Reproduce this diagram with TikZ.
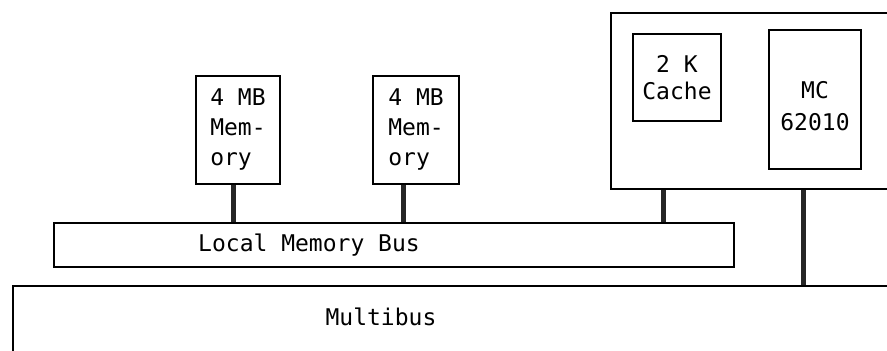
\documentclass[tikz,border=0pt]{standalone}
\usepackage{fontspec}
\newfontfamily\typefont{DejaVu Sans Mono}
\usetikzlibrary{positioning}

\begin{document}
\begin{tikzpicture}[x=1pt,y=-1pt,
  unit/.style={draw,line width=2pt,inner sep=0pt,anchor=north west,font=\typefont\fontsize{23}{30}\selectfont},
  txt/.style={font=\typefont\fontsize{23}{30}\selectfont},
  link/.style={line width=5pt,black!85}
]
\clip (0,0) rectangle (887,351);
% boards and buses
\node[unit,minimum width=300,minimum height=176] (board) at (610,12) {};
\node[unit,minimum width=900,minimum height=120] (mbus) at (12,285) {};
\node[unit,minimum width=680,minimum height=44] (lbus) at (53,222) {};
\node[unit,align=left,minimum width=84,minimum height=108] (mem1) at (195,75) {4 MB\\Mem-\\ory};
\node[unit,align=left,minimum width=86,minimum height=108] (mem2) at (372,75) {4 MB\\Mem-\\ory};
\node[unit,align=center,minimum width=88,minimum height=87,font=\typefont\fontsize{23}{27}\selectfont] (cache) at (632,33) {2 K\\Cache};
\node[unit,minimum width=92,minimum height=139,
  label={[txt,align=center,yshift=-7pt,font=\typefont\fontsize{23}{32}\selectfont]center:MC\\62010}] (cpu) at (768,29) {};
\node[txt] (lbuslbl) at (309,245) {Local Memory Bus};
\node[txt] (mbuslbl) at (381,317) {Multibus};
% connectors
\path ([xshift=-5pt]mem1.south) coordinate (m1)
      ([xshift=-13pt]mem2.south) coordinate (m2)
      ([xshift=53pt]board.south west) coordinate (b1)
      ([xshift=-12pt]cpu.south) coordinate (c1);
\draw[link] (m1) -- (m1 |- lbus.north);
\draw[link] (m2) -- (m2 |- lbus.north);
\draw[link] (b1) -- (b1 |- lbus.north);
\draw[link] (c1 |- board.south) -- (c1 |- mbus.north);
\end{tikzpicture}
\end{document}
